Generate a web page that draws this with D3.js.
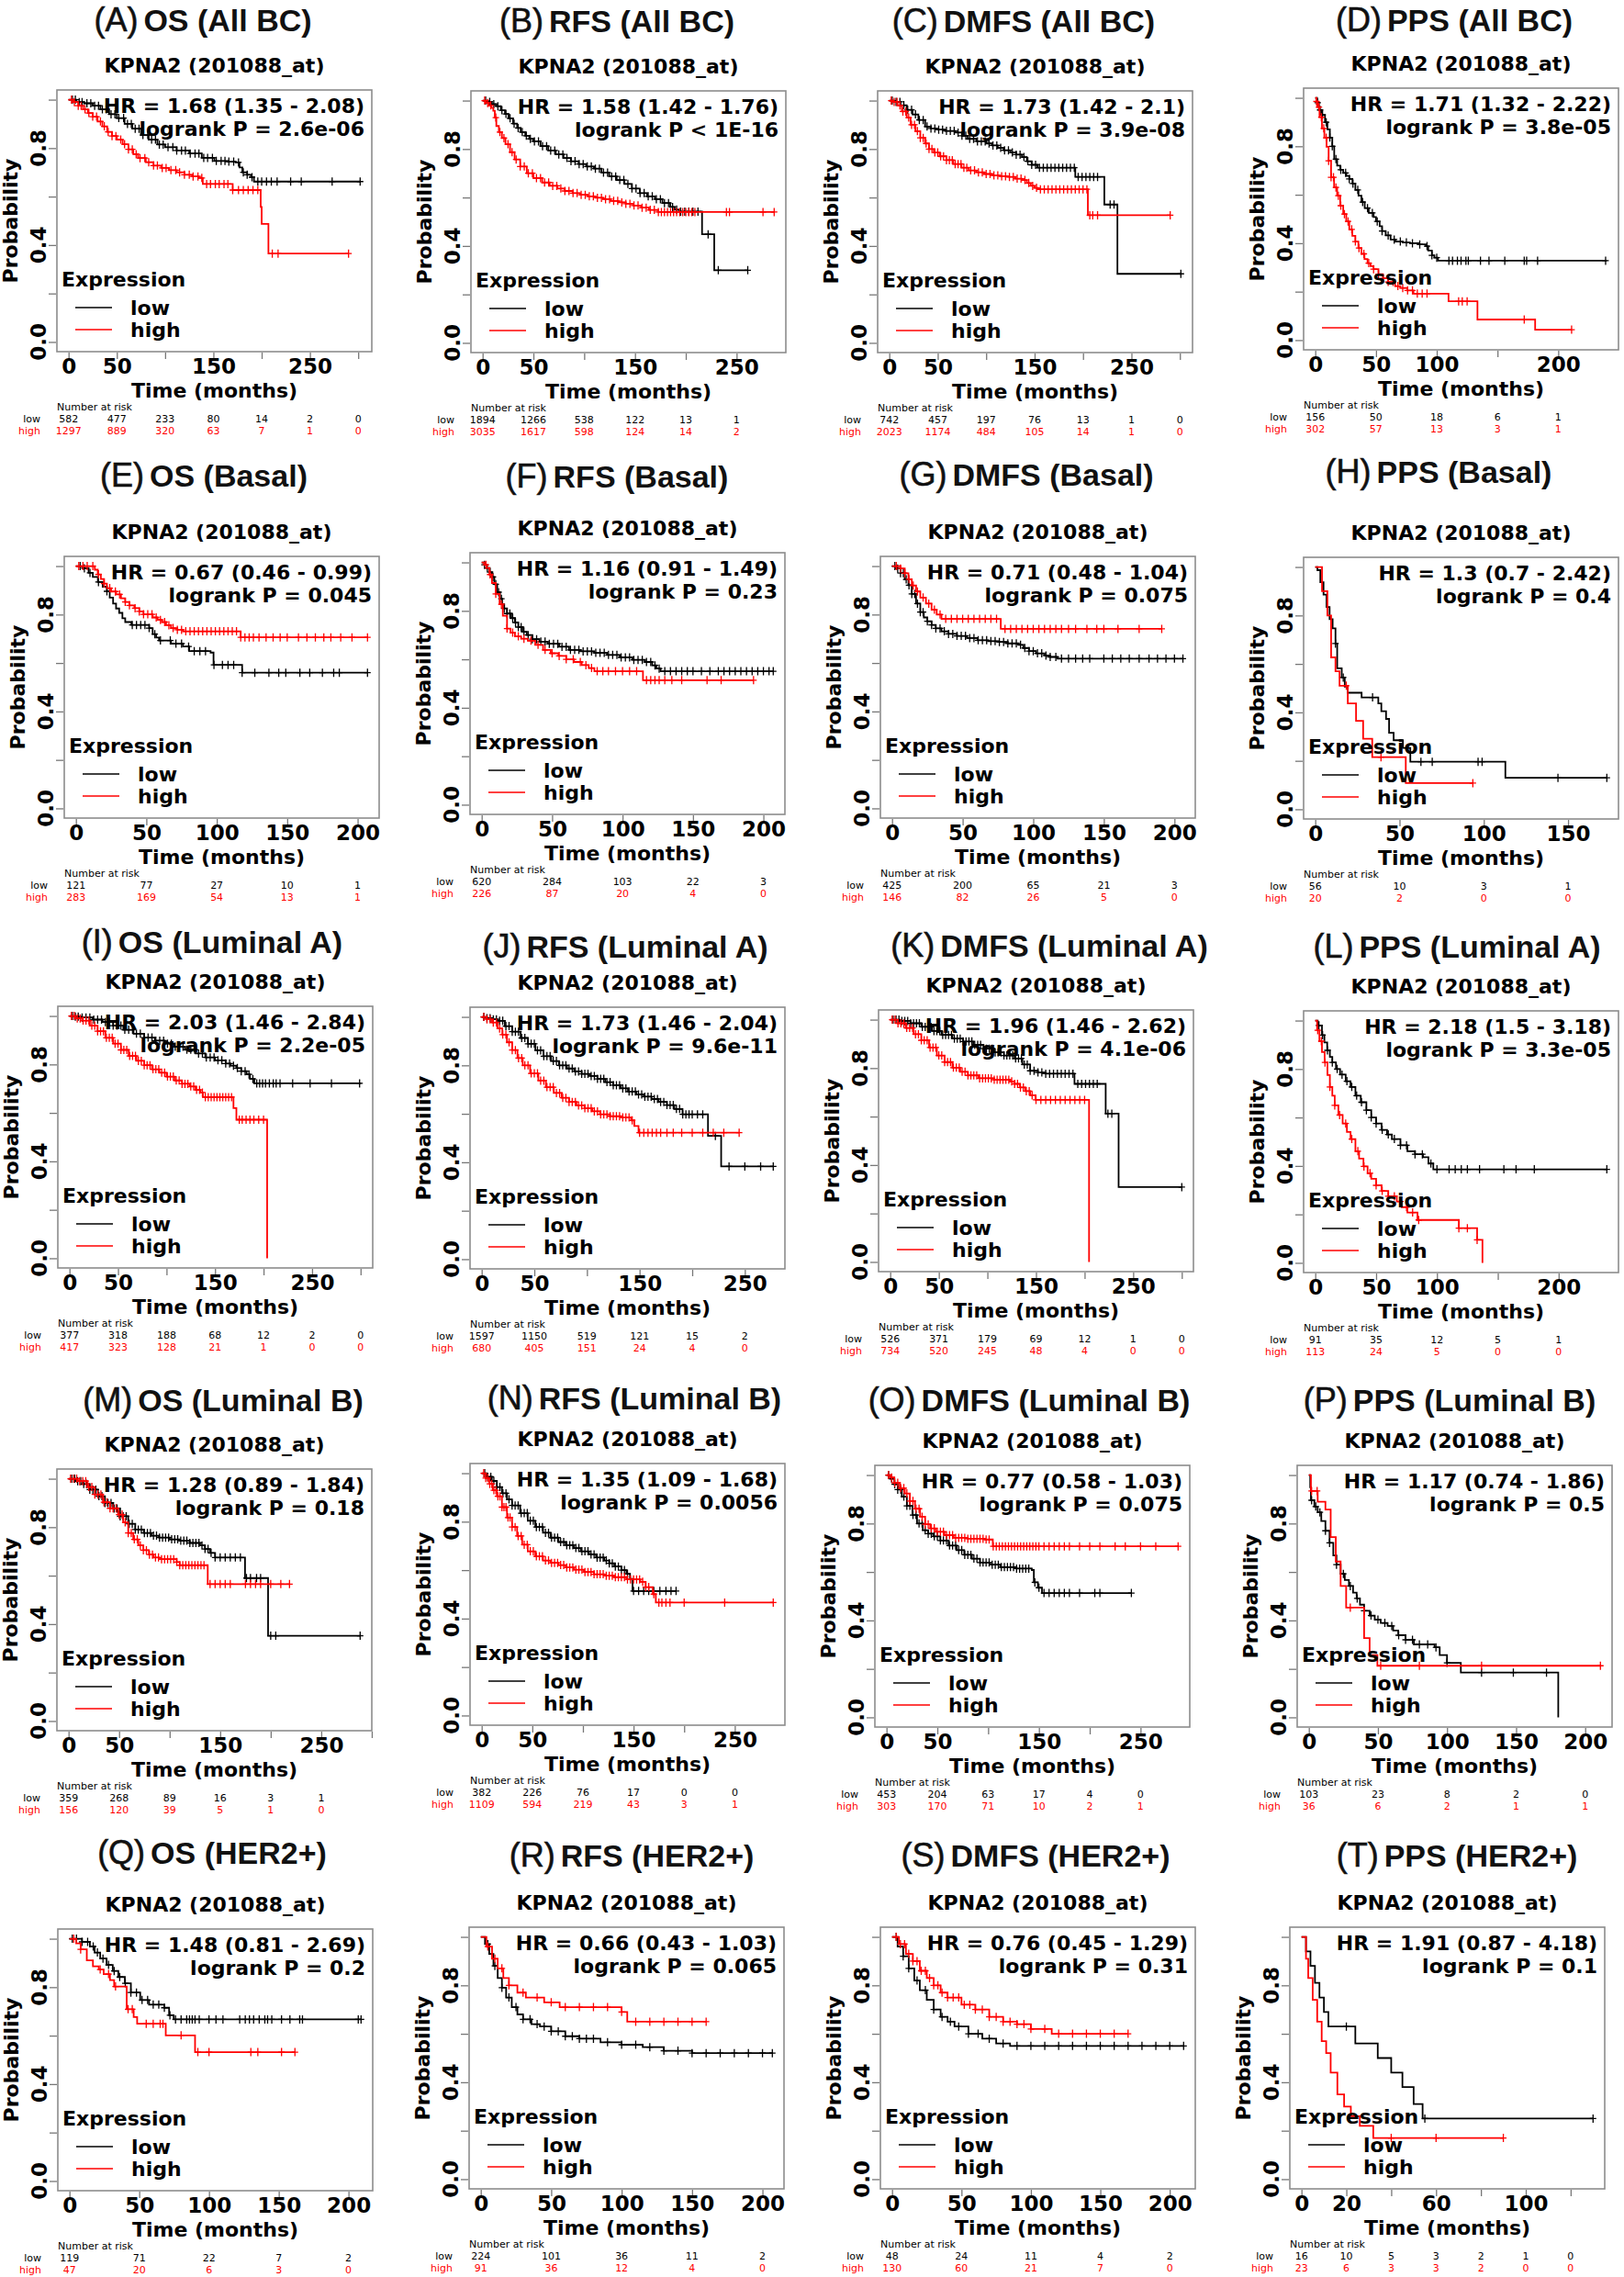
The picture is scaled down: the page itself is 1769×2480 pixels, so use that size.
<!DOCTYPE html>
<html>
<head>
<meta charset="utf-8">
<script src="https://cdnjs.cloudflare.com/ajax/libs/d3/7.8.5/d3.min.js"></script>
<style>
  body { margin: 0; background: #fff; }
</style>
</head>
<body>
<div id="chart"></div>
<script>
// START OF DATA

const panelIds = ["A","B","C","D","E","F","G","H","I","J","K","L","M","N","O","P","Q","R","S","T"];
const endpoints = ["OS","RFS","DMFS","PPS"];
const subtypes = ["All BC","Basal","Luminal A","Luminal B","HER2+"];
const hrTexts = [
  "HR = 1.68 (1.35 - 2.08)","HR = 1.58 (1.42 - 1.76)","HR = 1.73 (1.42 - 2.1)","HR = 1.71 (1.32 - 2.22)",
  "HR = 0.67 (0.46 - 0.99)","HR = 1.16 (0.91 - 1.49)","HR = 0.71 (0.48 - 1.04)","HR = 1.3 (0.7 - 2.42)",
  "HR = 2.03 (1.46 - 2.84)","HR = 1.73 (1.46 - 2.04)","HR = 1.96 (1.46 - 2.62)","HR = 2.18 (1.5 - 3.18)",
  "HR = 1.28 (0.89 - 1.84)","HR = 1.35 (1.09 - 1.68)","HR = 0.77 (0.58 - 1.03)","HR = 1.17 (0.74 - 1.86)",
  "HR = 1.48 (0.81 - 2.69)","HR = 0.66 (0.43 - 1.03)","HR = 0.76 (0.45 - 1.29)","HR = 1.91 (0.87 - 4.18)"
];
const pTexts = [
  "logrank P = 2.6e-06","logrank P < 1E-16","logrank P = 3.9e-08","logrank P = 3.8e-05",
  "logrank P = 0.045","logrank P = 0.23","logrank P = 0.075","logrank P = 0.4",
  "logrank P = 2.2e-05","logrank P = 9.6e-11","logrank P = 4.1e-06","logrank P = 3.3e-05",
  "logrank P = 0.18","logrank P = 0.0056","logrank P = 0.075","logrank P = 0.5",
  "logrank P = 0.2","logrank P = 0.065","logrank P = 0.31","logrank P = 0.1"
];

// x tick values and which of them R printed a label for
const ticks50 = [0,50,100,150,200,250,300];
const ticks20 = [0,20,40,60,80,100,120,140];
const labels300 = [0,50,150,250];
const labels200 = [0,50,100,150,200];
const labels240 = [0,50,100,200];
const labels130 = [0,20,60,100];
const yTicks = [0,0.2,0.4,0.6,0.8,1];
const yLabels = [0,0.4,0.8];

// Number at risk
const riskA = [[582,477,233,80,14,2,0],[1297,889,320,63,7,1,0]];
const riskB = [[1894,1266,538,122,13,1],[3035,1617,598,124,14,2]];
const riskC = [[742,457,197,76,13,1,0],[2023,1174,484,105,14,1,0]];
const riskD = [[156,50,18,6,1],[302,57,13,3,1]];
const riskE = [[121,77,27,10,1],[283,169,54,13,1]];
const riskF = [[620,284,103,22,3],[226,87,20,4,0]];
const riskG = [[425,200,65,21,3],[146,82,26,5,0]];
const riskH = [[56,10,3,1],[20,2,0,0]];
const riskI = [[377,318,188,68,12,2,0],[417,323,128,21,1,0,0]];
const riskJ = [[1597,1150,519,121,15,2],[680,405,151,24,4,0]];
const riskK = [[526,371,179,69,12,1,0],[734,520,245,48,4,0,0]];
const riskL = [[91,35,12,5,1],[113,24,5,0,0]];
const riskM = [[359,268,89,16,3,1],[156,120,39,5,1,0]];
const riskN = [[382,226,76,17,0,0],[1109,594,219,43,3,1]];
const riskO = [[453,204,63,17,4,0],[303,170,71,10,2,1]];
const riskP = [[103,23,8,2,0],[36,6,2,1,1]];
const riskQ = [[119,71,22,7,2],[47,20,6,3,0]];
const riskR = [[224,101,36,11,2],[91,36,12,4,0]];
const riskS = [[48,24,11,4,2],[130,60,21,7,0]];
const riskT = [[16,10,5,3,2,1,0],[23,6,3,3,2,0,0]];

const A_low = [[0,1],[8,0.99],[16,0.985],[25,0.975],[33,0.96],[42,0.94],[50,0.924],[58,0.9],[66,0.88],[75,0.854],[83,0.835],[92,0.815],[100,0.804],[112,0.79],[125,0.778],[138,0.76],[151,0.747],[165,0.744],[173,0.741],[177,0.72],[180,0.70],[185,0.69],[189,0.68],[192,0.662],[302,0.662]];
const A_high = [[0,1],[5,0.99],[10,0.975],[15,0.96],[20,0.945],[25,0.93],[30,0.91],[35,0.89],[40,0.867],[45,0.85],[50,0.835],[56,0.816],[62,0.795],[67,0.775],[72,0.759],[80,0.742],[88,0.728],[96,0.718],[104,0.709],[112,0.70],[120,0.69],[128,0.683],[135,0.677],[139,0.652],[167,0.652],[170,0.627],[199,0.557],[200,0.487],[207,0.365],[290,0.365]];
const A_lowC = [4,7,11,14,19,23,27,31,35,39,44,48,52,57,61,65,69,73,77,82,86,90,94,98,103,108,112,117,121,126,131,135,140,144,149,153,158,162,166,171,176,181,185,190,196,200,205,210,216,230,241,273,302];
const A_highC = [3,6,10,13,17,21,25,29,33,37,41,45,49,54,58,62,66,70,74,79,83,88,92,97,101,106,111,115,120,125,129,134,138,143,147,152,156,161,165,170,176,181,186,191,196,211,217,290];

const B_low = [[0,1],[5,0.995],[9,0.985],[13.5,0.977],[18,0.96],[22,0.945],[25.5,0.927],[30,0.905],[34,0.887],[37.5,0.87],[42,0.855],[46,0.842],[50,0.832],[57,0.812],[64.6,0.794],[72,0.778],[79.6,0.763],[87,0.75],[94.6,0.738],[102,0.728],[109.6,0.719],[117,0.703],[124.6,0.687],[132,0.672],[139.6,0.656],[147,0.637],[154.7,0.618],[162,0.605],[169.7,0.593],[177,0.577],[184.7,0.561],[189,0.55],[193.7,0.542],[216,0.448],[228,0.30],[261,0.30]];
const B_high = [[0,1],[3,0.99],[6,0.98],[8.5,0.97],[10.5,0.958],[12,0.93],[13.5,0.895],[16,0.87],[19,0.845],[22.5,0.82],[27,0.787],[31.5,0.757],[37,0.728],[43.5,0.70],[50,0.68],[58.6,0.662],[66,0.648],[73.6,0.637],[81,0.627],[88.6,0.618],[96,0.611],[103.6,0.605],[111,0.599],[118.6,0.593],[126,0.586],[133.6,0.58],[141,0.574],[148.6,0.567],[156,0.558],[163.7,0.549],[172.7,0.54],[287,0.54]];
const B_lowC = [3,7,11,15,19,23,27,31,35,39,43,47,51,55,59,63,67,71,75,79,83,87,91,95,99,103,107,111,115,119,123,127,131,135,139,143,147,151,155,159,163,167,171,175,179,183,187,191,195,199,203,207,212,222,232,261];
const B_highC = [2,5,8,13,17,21,25,29,33,37,41,45,49,53,57,61,65,69,73,77,81,85,89,93,97,101,105,109,113,117,121,125,129,133,137,141,145,149,153,157,161,165,169,173,176,179,182,185,188,191,194,197,200,203,206,209,240,243,276,287];

const C_low = [[0,1],[5,0.995],[11.6,0.981],[18,0.962],[24,0.943],[30,0.92],[37,0.893],[43,0.885],[49,0.88],[58,0.875],[68,0.868],[75,0.855],[81,0.842],[90,0.832],[100,0.823],[106,0.815],[112,0.805],[118,0.795],[125,0.786],[131,0.777],[137,0.767],[142,0.75],[147,0.735],[153,0.723],[192,0.685],[222,0.571],[235.5,0.285],[301,0.285]];
const C_high = [[0,1],[4,0.995],[8.5,0.98],[13,0.955],[18,0.93],[22,0.9],[27,0.874],[32,0.846],[37,0.823],[41,0.8],[46,0.786],[52,0.77],[59,0.754],[66,0.738],[74.5,0.723],[82,0.712],[90,0.704],[98,0.697],[106,0.691],[114,0.688],[122,0.685],[130,0.678],[137,0.672],[142,0.66],[146,0.648],[150,0.64],[153,0.634],[205,0.527],[290,0.527]];
const C_lowC = [3,7,11,15,19,23,27,31,35,39,43,47,51,55,59,63,67,71,75,79,83,87,91,95,99,103,107,111,115,119,123,127,131,135,139,143,147,151,155,159,163,167,171,175,179,183,187,191,195,199,203,207,211,215,228,232,301];
const C_highC = [2,5,8,11,14,17,20,23,26,29,32,35,38,41,44,47,50,53,56,59,62,65,68,71,74,77,80,84,88,92,96,100,104,108,112,116,120,124,128,132,136,140,144,148,152,156,160,164,168,172,176,180,184,188,192,196,200,204,207,210,215,290];

const D_low = [[0,1],[1.5,0.98],[3,0.95],[5,0.93],[8,0.899],[10,0.87],[12,0.836],[14,0.8],[15.6,0.747],[18,0.72],[20.6,0.703],[23,0.69],[25.6,0.678],[28,0.665],[30.6,0.646],[33,0.62],[35.6,0.596],[38,0.57],[40.7,0.545],[44,0.525],[48,0.508],[50,0.49],[53,0.47],[55,0.45],[58,0.432],[62,0.415],[66,0.407],[72,0.403],[78,0.40],[85,0.395],[91,0.388],[93,0.37],[96,0.35],[98,0.34],[101,0.328],[240,0.328]];
const D_high = [[0,1],[1,0.985],[1.8,0.962],[3.5,0.92],[5.5,0.874],[7.5,0.835],[9.3,0.798],[11,0.74],[13,0.672],[15.5,0.63],[18,0.596],[20.5,0.555],[23,0.52],[25.5,0.49],[28,0.457],[30.5,0.43],[33,0.407],[35.5,0.38],[38,0.356],[40.5,0.335],[43,0.318],[45.5,0.305],[48,0.293],[52,0.272],[55.7,0.255],[60,0.24],[65.7,0.223],[70,0.215],[75.8,0.205],[80.8,0.192],[109.7,0.16],[133.5,0.085],[181,0.043],[211,0.043]];
const D_lowC = [2,4,6,9,12,14,17,21,25,28,31,35,39,43,47,51,55,60,65,70,75,80,86,92,96,100,110,113,117,120,124,126,136,143,156,172,174,183,239];
const D_highC = [1,3,5,7,9,11,13,15,17,19,21,24,27,30,33,36,40,44,48,52,56,60,64,68,72,76,80,84,88,92,118,121,125,172,211];

const E_low = [[0,1],[4.8,0.991],[9,0.972],[12,0.955],[15.6,0.934],[19,0.915],[22,0.896],[24,0.87],[26.4,0.845],[28.5,0.825],[30.7,0.807],[33,0.785],[35,0.769],[39.4,0.757],[52,0.744],[54.5,0.719],[57,0.705],[59,0.693],[67.5,0.68],[76,0.668],[80.4,0.649],[95.6,0.643],[97.7,0.592],[118,0.56],[207,0.56]];
const E_high = [[0,1],[11.2,1],[13.4,0.985],[15.5,0.966],[17.7,0.947],[20,0.928],[22,0.909],[25,0.895],[28.5,0.883],[32,0.867],[35,0.852],[38,0.838],[41.5,0.826],[45,0.813],[48,0.801],[54.5,0.788],[58,0.778],[61,0.769],[64,0.756],[67.5,0.744],[72,0.737],[76,0.731],[117,0.706],[207,0.706]];
const E_lowC = [3,6,10,16,22,40,43,46,49,52,56,60,67,71,75,80,84,88,92,98,104,108,112,118,127,137,144,149,159,166,175,183,187,207];
const E_highC = [2,5,8,12,16,20,24,28,31,35,38,42,45,48,51,54,57,60,63,66,69,72,75,78,81,84,87,90,93,96,99,102,105,108,111,114,117,120,123,126,130,135,140,145,150,158,164,170,176,181,188,196,207];

const F_low = [[0,1],[2,0.99],[3.6,0.977],[5.5,0.96],[7.3,0.94],[9,0.91],[11,0.877],[13,0.85],[14.5,0.827],[16,0.81],[18,0.789],[21,0.77],[23.6,0.752],[26,0.733],[29,0.714],[32,0.7],[36,0.683],[41,0.673],[47,0.664],[55,0.652],[62,0.639],[70,0.633],[80,0.627],[89,0.618],[98,0.608],[107,0.598],[116,0.589],[121,0.575],[124,0.562],[127,0.551],[207,0.551]];
const F_high = [[0,1],[2,0.99],[3.6,0.977],[5.5,0.95],[7.3,0.915],[10,0.87],[12.7,0.827],[15,0.78],[18,0.727],[20.5,0.71],[23.6,0.695],[28,0.685],[32.7,0.677],[38,0.66],[43.6,0.639],[49,0.625],[54.5,0.614],[60,0.6],[65.5,0.589],[71,0.576],[76,0.564],[80,0.551],[114.5,0.514],[193,0.514]];
const F_lowC = [2,4,6,8,10,12,14,16,18,20,22,24,26,28,30,33,36,39,42,45,48,51,54,57,60,63,66,69,72,75,78,81,84,87,90,93,96,99,102,105,108,111,114,117,120,123,126,130,134,138,142,146,150,156,162,168,172,176,180,184,188,192,196,200,204,207];
const F_highC = [3,6,10,14,18,22,26,30,35,40,45,50,55,60,65,70,74,78,82,86,90,95,100,105,110,117,120,123,126,130,135,142,160,170,193];

const G_low = [[0,1],[3,0.99],[6,0.971],[9,0.945],[11.6,0.921],[14,0.885],[17,0.845],[20,0.81],[22.5,0.788],[25,0.772],[28,0.757],[31,0.743],[35,0.731],[40,0.72],[46,0.712],[53,0.703],[60.6,0.694],[68,0.69],[75,0.687],[82,0.681],[89.6,0.675],[93,0.662],[97,0.649],[102,0.64],[108,0.631],[112,0.625],[117,0.618],[206.5,0.618]];
const G_high = [[0,1],[6,0.99],[9,0.97],[11.6,0.946],[14,0.92],[17,0.895],[20,0.87],[24,0.845],[28,0.82],[31.6,0.80],[35,0.782],[77,0.741],[191,0.741]];
const G_lowC = [2,4,6,8,10,12,14,16,18,20,22,25,28,31,34,37,40,43,46,49,52,55,58,61,64,67,70,73,76,79,82,85,88,91,94,97,100,103,106,109,112,116,120,125,130,135,140,150,156,162,168,175,182,188,194,200,206];
const G_highC = [3,6,9,12,15,18,22,26,30,34,38,42,46,50,54,58,62,66,70,74,80,84,88,92,96,100,104,108,112,116,120,125,130,138,145,150,160,175,191];

const H_low = [[0,1],[1.3,0.987],[3,0.937],[4.9,0.886],[6.7,0.835],[8.5,0.785],[10.3,0.747],[12,0.684],[13,0.582],[15.7,0.544],[17.5,0.506],[19.3,0.481],[27.5,0.462],[37.4,0.437],[39.2,0.405],[42,0.373],[43.8,0.316],[46.5,0.285],[52,0.253],[56.4,0.196],[112.8,0.13],[173,0.13]];
const H_high = [[0,1],[4,0.9],[7.2,0.8],[9.4,0.627],[12,0.57],[14.4,0.51],[19.3,0.437],[24.2,0.365],[28.4,0.291],[33.8,0.215],[53.7,0.108],[93.5,0.108]];
const H_lowC = [12,16.6,34,62.7,69.4,96.6,99,144,173];
const H_highC = [18.4,39,93.5];

const I_low = [[0,1],[6,0.997],[13,0.994],[24,0.985],[34,0.975],[45,0.96],[55.5,0.943],[66,0.927],[77,0.911],[88,0.898],[98,0.886],[108,0.873],[119,0.861],[130,0.845],[140,0.829],[150,0.817],[161,0.804],[166,0.795],[172,0.785],[177,0.772],[182.5,0.759],[186,0.74],[190.5,0.722],[300.5,0.722]];
const I_high = [[0,1],[6,0.99],[13,0.981],[21,0.96],[29,0.937],[37,0.91],[45,0.886],[53,0.86],[61,0.835],[69,0.815],[77,0.797],[85,0.78],[92.6,0.766],[100,0.75],[108.5,0.734],[116,0.72],[124,0.709],[130,0.695],[135,0.684],[137.5,0.665],[169,0.62],[172,0.572],[203.7,0.572],[203.7,0]];
const I_lowC = [3,6,9,13,17,21,25,29,33,37,41,45,49,53,57,61,65,69,73,77,81,85,89,93,97,101,105,109,113,117,121,125,129,133,137,141,145,149,153,157,161,165,169,173,177,181,185,189,193,196,199,202,206,210,213,217,230,248,270,299];
const I_highC = [2,5,8,11,14,17,20,23,26,29,32,35,38,41,44,47,50,53,56,59,62,65,68,71,74,77,80,83,86,89,92,95,98,101,104,107,110,113,116,119,122,125,128,131,134,137,140,143,146,149,152,155,158,161,164,167,175,178,182,186,190,195,200];

const J_low = [[0,1],[5,0.995],[10,0.99],[14.7,0.984],[22,0.962],[29,0.939],[37,0.913],[44,0.889],[51,0.862],[58.7,0.838],[66,0.818],[73.4,0.80],[81,0.787],[88,0.775],[95,0.765],[102.7,0.756],[110,0.744],[117.4,0.731],[125,0.718],[132,0.705],[139,0.692],[146.8,0.68],[154,0.671],[161.4,0.661],[168,0.649],[176,0.636],[183,0.62],[190.8,0.598],[215,0.509],[227.5,0.383],[277,0.383]];
const J_high = [[0,1],[5,0.99],[9.8,0.977],[15,0.952],[19.6,0.927],[24,0.895],[29,0.863],[34,0.83],[39,0.80],[46,0.767],[53.8,0.737],[61,0.71],[68.5,0.686],[76,0.666],[83,0.649],[90,0.635],[97.8,0.623],[105,0.61],[112.5,0.598],[122,0.59],[132,0.585],[142,0.573],[145,0.55],[149,0.522],[244.6,0.522]];
const J_lowC = [2,5,8,11,14,17,20,23,26,29,32,35,38,41,44,47,50,53,56,59,62,65,68,71,74,77,80,83,86,89,92,95,98,101,104,107,110,113,116,119,122,125,128,131,134,137,140,143,146,149,152,155,158,161,164,167,170,173,176,179,182,185,188,191,194,197,200,205,210,222,235,250,265,277];
const J_highC = [2,5,8,11,14,17,20,23,26,29,32,35,38,41,44,47,50,53,56,59,62,65,68,71,74,77,80,83,86,89,92,95,98,101,104,107,110,113,116,119,122,125,128,131,134,137,140,143,150,154,158,162,166,170,176,182,190,200,210,220,230,244.6];

const K_low = [[0,1],[10,0.995],[21,0.985],[32,0.97],[43,0.953],[53,0.937],[64,0.922],[75,0.91],[85.5,0.896],[96,0.88],[107,0.865],[117,0.852],[128,0.84],[136,0.815],[144,0.789],[152,0.782],[160,0.777],[189.6,0.735],[221.7,0.612],[235,0.309],[300,0.309]];
const K_high = [[0,1],[8,0.985],[16,0.966],[24,0.94],[32,0.915],[40,0.885],[48,0.852],[56,0.825],[64,0.802],[72,0.785],[80,0.77],[91,0.758],[107,0.752],[123,0.745],[128,0.735],[133.5,0.72],[139,0.705],[144,0.688],[149.6,0.669],[204.6,0.669],[204.6,0]];
const K_lowC = [3,6,9,12,15,18,21,24,27,30,33,36,39,42,45,48,51,54,57,60,63,66,69,72,75,78,81,84,87,90,93,96,99,102,105,108,111,114,117,120,123,126,129,132,135,138,141,144,148,152,156,160,164,168,172,176,180,184,188,193,197,201,205,209,213,224,228,300];
const K_highC = [2,5,8,11,14,17,20,23,26,29,32,35,38,41,44,47,50,53,56,59,62,65,68,71,74,77,80,83,86,89,92,95,98,101,104,107,110,113,116,119,122,125,128,131,134,137,140,143,146,150,155,160,165,170,175,180,185,190,195,200];

const L_low = [[0,1],[2,0.98],[5.5,0.94],[7.5,0.91],[9.8,0.877],[12,0.85],[14,0.827],[17,0.8],[20.4,0.777],[25,0.75],[29,0.726],[33,0.69],[37.4,0.663],[42,0.63],[46,0.60],[50,0.575],[54.5,0.549],[59,0.53],[63,0.511],[70,0.485],[75.7,0.461],[82,0.448],[88.5,0.436],[93,0.41],[97,0.386],[239.6,0.386]];
const L_high = [[0,1],[1.5,0.96],[3.4,0.915],[5.5,0.87],[7.7,0.827],[10,0.775],[12,0.726],[14,0.69],[16,0.65],[19,0.61],[22.5,0.575],[26,0.54],[29,0.511],[33,0.461],[36,0.43],[39.6,0.398],[43,0.37],[46,0.347],[50,0.32],[54.5,0.297],[60,0.275],[67,0.253],[71,0.23],[75.7,0.208],[84,0.177],[118,0.143],[133,0.095],[137.4,0.095],[137.4,0]];
const L_lowC = [3,6,10,14,18,22,26,30,34,38,42,46,50,55,60,65,70,75,82,88,95,100,110,115,120,125,135,155,165,180,239.6];
const L_highC = [2,5,8,12,16,20,25,30,35,40,45,50,55,60,65,70,75,80,85,118,125,133];

const M_low = [[0,1],[7,0.99],[13.7,0.978],[21,0.955],[29,0.928],[36,0.9],[44,0.877],[51,0.845],[59,0.814],[66,0.79],[74.4,0.776],[82,0.765],[89.6,0.757],[100,0.75],[110,0.744],[120,0.735],[130,0.725],[135,0.71],[140,0.694],[145,0.675],[174.6,0.59],[197.4,0.352],[288.5,0.352]];
const M_high = [[0,1],[9,0.99],[18.7,0.966],[26,0.935],[34,0.903],[41,0.878],[49,0.852],[54,0.82],[59,0.776],[64,0.75],[69,0.725],[74,0.705],[79.5,0.687],[84,0.675],[89.6,0.668],[107,0.656],[110,0.643],[137.7,0.565],[218.6,0.565]];
const M_lowC = [3,6,9,12,15,18,21,24,27,30,33,36,39,42,45,48,51,54,57,60,63,66,69,72,75,78,81,84,87,90,93,96,99,102,105,108,111,114,117,120,123,126,129,132,135,138,141,145,150,155,160,165,170,176,180,186,190,200,205,288.5];
const M_highC = [2,5,8,11,14,17,20,23,26,29,32,35,38,41,44,47,50,53,56,59,62,65,68,71,74,77,80,83,86,89,92,95,98,101,104,107,110,113,116,119,122,125,128,131,134,140,145,150,155,160,175,180,185,190,200,210,218.6];

const N_low = [[0,1],[5,0.985],[10,0.968],[15,0.943],[20,0.917],[25,0.892],[30,0.867],[38,0.835],[45.5,0.804],[53,0.778],[60.6,0.754],[68,0.734],[75.8,0.716],[83,0.703],[91,0.691],[98,0.678],[106,0.665],[113,0.652],[121,0.64],[126,0.628],[131,0.615],[138,0.6],[143,0.585],[146.5,0.564],[149,0.514],[192,0.514]];
const N_high = [[0,1],[4,0.98],[7.6,0.956],[11,0.93],[15,0.905],[20,0.86],[25,0.817],[30,0.778],[35,0.741],[40,0.705],[45.5,0.678],[53,0.657],[60.6,0.64],[68,0.63],[75.8,0.621],[83,0.611],[91,0.602],[101,0.592],[111,0.583],[121,0.577],[131,0.571],[143,0.562],[156.6,0.552],[162,0.53],[169,0.501],[172,0.466],[288,0.466]];
const N_lowC = [3,6,9,12,15,18,21,24,27,30,33,36,39,42,45,48,51,54,57,60,63,66,69,72,75,78,81,84,87,90,93,96,99,102,105,108,111,114,117,120,123,126,129,132,135,138,141,144,150,155,160,165,170,176,182,187,192];
const N_highC = [2,4,6,8,10,12,14,16,18,20,22,24,26,28,30,33,36,39,42,45,48,51,54,57,60,63,66,69,72,75,78,81,84,87,90,93,96,99,102,105,108,111,114,117,120,123,126,129,132,135,138,141,144,147,150,153,156,159,162,165,170,175,178,182,186,200,240,288];

const O_low = [[0,1],[4,0.985],[7.7,0.962],[11,0.94],[15,0.911],[20,0.873],[25.5,0.835],[30,0.8],[35.7,0.772],[41,0.758],[46,0.747],[53,0.73],[61,0.709],[69,0.69],[76.5,0.671],[84,0.655],[92,0.639],[102,0.63],[112,0.62],[128,0.614],[143,0.608],[145,0.557],[149,0.535],[153,0.513],[241,0.513]];
const O_high = [[0,1],[4,0.99],[7.7,0.968],[13,0.946],[18,0.924],[23,0.893],[28,0.861],[33,0.828],[38,0.797],[43,0.78],[48.5,0.766],[57,0.752],[66,0.741],[80,0.737],[97,0.734],[104.6,0.706],[287,0.706]];
const O_lowC = [2,5,8,11,14,17,20,23,26,29,32,35,38,41,44,47,50,53,56,59,62,65,68,71,74,77,80,83,86,89,92,95,98,101,104,107,110,113,116,119,122,125,128,131,134,137,140,146,150,155,160,165,170,175,180,190,205,210,241];
const O_highC = [2,5,8,11,14,17,20,23,26,29,32,35,38,41,44,47,50,53,56,59,62,65,68,71,74,77,80,83,86,89,92,95,98,101,105,108,111,114,117,120,123,126,129,132,135,138,141,144,147,150,155,160,165,170,175,180,190,200,210,225,235,250,265,287];

const P_low = [[0,1],[1,0.95],[1.5,0.896],[4,0.87],[6.4,0.846],[9,0.81],[12,0.77],[15,0.72],[17.7,0.668],[20,0.63],[23,0.592],[26,0.567],[29,0.542],[32,0.515],[34.6,0.491],[37,0.465],[40,0.44],[44,0.42],[47.7,0.403],[52,0.39],[57,0.377],[61,0.358],[64.7,0.339],[70,0.32],[76,0.301],[91,0.289],[94.7,0.257],[100,0.225],[110,0.185],[180.5,0.185],[180.5,0]];
const P_high = [[0,1],[1.5,0.934],[6.4,0.89],[12,0.858],[15.8,0.744],[19.5,0.643],[23,0.542],[27,0.453],[40,0.327],[44,0.257],[49.6,0.213],[211,0.213]];
const P_lowC = [2,5,8,12,15,20,25,30,35,40,45,50,55,60,65,70,75,80,86,92,100,125,148,172];
const P_highC = [2,6,30,52,80,125,211];

const Q_low = [[0,1],[9,0.987],[14.6,0.968],[18,0.943],[22,0.918],[26.6,0.892],[31,0.867],[35,0.842],[39.7,0.816],[44,0.778],[50.7,0.747],[57,0.728],[68,0.715],[71.4,0.684],[74.7,0.667],[209,0.667]];
const Q_high = [[0,1],[4.8,0.981],[8,0.956],[12.4,0.911],[16.8,0.886],[21,0.873],[24.5,0.854],[29,0.829],[32,0.803],[41,0.709],[46,0.677],[48.5,0.649],[69,0.601],[90,0.532],[161.6,0.532]];
const Q_lowC = [2,5,9,13,17,20,24,28,32,36,40,44,48,52,56,60,64,68,72,76,80,84,86,88,90,93,100,105,110,122,126,129,132,136,140,142,145,152,158,165,167,207,209];
const Q_highC = [3,8,22,28,33,42,45,55,60,65,67,80,92,100,130,135,152,161.6];

const R_low = [[0,1],[3,0.97],[6,0.93],[9,0.88],[12,0.83],[15,0.79],[18,0.75],[22,0.71],[26,0.68],[30,0.66],[36,0.64],[42,0.63],[50,0.61],[60,0.59],[70,0.58],[85,0.565],[100,0.555],[115,0.545],[130,0.53],[150,0.52],[207,0.52]];
const R_high = [[0,1],[4,0.96],[8,0.91],[12,0.87],[16,0.83],[20,0.8],[26,0.77],[32,0.75],[45,0.73],[56,0.71],[100,0.69],[104,0.65],[160,0.65]];
const R_lowC = [5,10,15,20,25,30,35,40,45,50,55,60,65,70,75,80,90,100,110,120,130,140,150,160,170,180,190,200,207];
const R_highC = [5,10,15,20,30,40,50,60,70,80,90,100,110,120,130,140,150,160];

const S_low = [[0,1],[4,0.96],[8,0.92],[12,0.87],[16,0.82],[20,0.78],[25,0.74],[30,0.70],[35,0.67],[40,0.65],[45,0.63],[55,0.6],[65,0.58],[75,0.56],[85,0.55],[210,0.55]];
const S_high = [[0,1],[5,0.97],[10,0.93],[15,0.9],[20,0.86],[25,0.83],[30,0.8],[35,0.77],[40,0.75],[50,0.72],[60,0.7],[70,0.67],[80,0.65],[90,0.64],[100,0.62],[115,0.6],[170,0.6]];
const S_lowC = [3,8,12,18,24,30,36,42,48,55,62,70,80,90,100,110,120,130,140,150,160,170,180,190,200,210];
const S_highC = [3,6,9,12,15,18,21,24,27,30,33,36,40,44,48,52,56,60,65,70,75,80,85,90,95,100,110,120,130,140,150,160,170];

const T_low = [[0,1],[2,0.94],[4,0.88],[6,0.81],[8,0.75],[10,0.69],[12,0.63],[22,0.63],[24,0.56],[30,0.56],[34,0.5],[40,0.44],[45,0.38],[50,0.31],[54,0.25],[130,0.25]];
const T_high = [[0,1],[2,0.91],[3,0.83],[5,0.74],[7,0.65],[9,0.57],[11,0.52],[13,0.44],[16,0.35],[19,0.30],[22,0.26],[26,0.22],[32,0.17],[90,0.17]];
const T_lowC = [20,55,130];
const T_highC = [40,60,90];

// END OF DATA

// Panel placement in the figure (box left/top, title centre/baseline)
const layout = {
  A: [62, 98, 221, 34],   B: [513, 99, 672, 35],   C: [956, 99, 1115, 35],  D: [1420, 96, 1584, 34],
  E: [70, 606, 222, 530], F: [512, 602, 672, 531], G: [959, 606, 1118, 529], H: [1420, 607, 1567, 526],
  I: [63, 1096, 231, 1038], J: [512, 1097, 681, 1043], K: [957, 1100, 1143, 1042], L: [1420, 1101, 1587, 1043],
  M: [62, 1600, 243, 1537], N: [512, 1594, 691, 1535], O: [953, 1596, 1121, 1537], P: [1413, 1596, 1579, 1537],
  Q: [63, 2101, 231, 2030], R: [511, 2099, 688, 2033], S: [959, 2099, 1128, 2033], T: [1405, 2099, 1587, 2033]
};

const curves = {
  A: [A_low, A_high, A_lowC, A_highC, riskA, ticks50, labels300],
  B: [B_low, B_high, B_lowC, B_highC, riskB, ticks50, labels300],
  C: [C_low, C_high, C_lowC, C_highC, riskC, ticks50, labels300],
  D: [D_low, D_high, D_lowC, D_highC, riskD, ticks50, labels240],
  E: [E_low, E_high, E_lowC, E_highC, riskE, ticks50, labels200],
  F: [F_low, F_high, F_lowC, F_highC, riskF, ticks50, labels200],
  G: [G_low, G_high, G_lowC, G_highC, riskG, ticks50, labels200],
  H: [H_low, H_high, H_lowC, H_highC, riskH, ticks50, labels200],
  I: [I_low, I_high, I_lowC, I_highC, riskI, ticks50, labels300],
  J: [J_low, J_high, J_lowC, J_highC, riskJ, ticks50, labels300],
  K: [K_low, K_high, K_lowC, K_highC, riskK, ticks50, labels300],
  L: [L_low, L_high, L_lowC, L_highC, riskL, ticks50, labels240],
  M: [M_low, M_high, M_lowC, M_highC, riskM, ticks50, labels300],
  N: [N_low, N_high, N_lowC, N_highC, riskN, ticks50, labels300],
  O: [O_low, O_high, O_lowC, O_highC, riskO, ticks50, labels300],
  P: [P_low, P_high, P_lowC, P_highC, riskP, ticks50, labels200],
  Q: [Q_low, Q_high, Q_lowC, Q_highC, riskQ, ticks50, labels200],
  R: [R_low, R_high, R_lowC, R_highC, riskR, ticks50, labels200],
  S: [S_low, S_high, S_lowC, S_highC, riskS, ticks50, labels200],
  T: [T_low, T_high, T_lowC, T_highC, riskT, ticks20, labels130]
};

// Setup
const W = 343, H = 285;
const BOLD = "'DejaVu Sans', Verdana, sans-serif";
const colors = ["#000000", "#ff0000"];

const SVG = d3.select("#chart")
  .append("svg")
  .attr("width", 1769)
  .attr("height", 2480)
  .style("background", "#fff");

// survival value of a step curve at time t
function survAt(pts, t) {
  let s = 1;
  for (const [pt, ps] of pts) {
    if (pt <= t) s = ps;
    else break;
  }
  return s;
}

function drawPanel(id, i) {
  const [bx, by, tx, ty] = layout[id];
  const [low, high, lowC, highC, risk, ticks, labels] = curves[id];
  const xMax = d3.max([low, high], (c) => c[c.length - 1][0]);

  const x = d3.scaleLinear().domain([-0.04 * xMax, 1.04 * xMax]).range([0, W]);
  const y = d3.scaleLinear().domain([-0.04, 1.04]).range([H, 0]);

  // panel title, e.g. "(A) OS (All BC)"
  const title = SVG.append("text")
    .attr("x", tx).attr("y", ty)
    .attr("text-anchor", "middle")
    .attr("font-family", "'Liberation Sans', Arial, sans-serif")
    .attr("fill", "#111");
  title.append("tspan").attr("font-size", 36).attr("stroke", "#111").attr("stroke-width", 0.6)
    .text(`(${id})`);
  title.append("tspan").attr("dx", 6).attr("font-size", 34).attr("font-weight", "bold")
    .text(`${endpoints[i % 4]} (${subtypes[Math.floor(i / 4)]})`);

  const g = SVG.append("g").attr("transform", `translate(${bx},${by})`)
    .attr("font-family", BOLD);

  g.append("text").attr("x", W / 2).attr("y", -19).attr("text-anchor", "middle")
    .attr("font-size", 22).attr("font-weight", "bold").text("KPNA2 (201088_at)");

  // y axis ticks
  g.append("g").attr("transform", "translate(-1,0)")
    .call(d3.axisLeft(y).tickValues(yTicks).tickSize(8).tickFormat(""))
    .call((a) => a.select(".domain").remove())
    .call((a) => a.selectAll("line").attr("stroke", "#777").attr("stroke-width", 1.3));

  g.selectAll("text.ylab").data(yLabels).join("text")
    .attr("class", "ylab")
    .attr("transform", (d) => `translate(-12,${y(d)}) rotate(-90)`)
    .attr("text-anchor", "middle").attr("font-size", 23).attr("font-weight", "bold")
    .text((d) => d.toFixed(1));

  g.append("text").attr("transform", `translate(-43,${H / 2}) rotate(-90)`)
    .attr("text-anchor", "middle").attr("font-size", 22).attr("font-weight", "bold")
    .text("Probability");

  // x axis
  const xt = ticks.filter((t) => t <= 1.04 * xMax);
  const xAxis = g.append("g").attr("transform", `translate(0,${H + 1})`)
    .call(d3.axisBottom(x).tickValues(xt).tickSize(7).tickPadding(0)
      .tickFormat((d) => (labels.includes(d) ? d : "")));
  xAxis.select(".domain").remove();
  xAxis.selectAll("line").attr("stroke", "#777").attr("stroke-width", 1.3);
  xAxis.selectAll("text").attr("font-family", BOLD).attr("font-size", 23)
    .attr("font-weight", "bold").attr("fill", "#000");

  g.append("text").attr("x", W / 2).attr("y", H + 50).attr("text-anchor", "middle")
    .attr("font-size", 22).attr("font-weight", "bold").text("Time (months)");

  // curves
  const line = d3.line().x((d) => x(d[0])).y((d) => y(d[1])).curve(d3.curveStepAfter);
  [[low, lowC], [high, highC]].forEach(([pts, cens], k) => {
    g.append("path").attr("d", line(pts)).attr("fill", "none")
      .attr("stroke", colors[k]).attr("stroke-width", 1.8);
    g.append("path")
      .attr("d", cens.map((c) => {
        const cx = x(c), cy = y(survAt(pts, c));
        return `M${cx - 3.5},${cy}H${cx + 3.5}M${cx},${cy - 4.5}V${cy + 4.5}`;
      }).join(""))
      .attr("fill", "none").attr("stroke", colors[k]).attr("stroke-width", 1.3);
  });

  // frame
  g.append("rect").attr("width", W).attr("height", H).attr("fill", "none")
    .attr("stroke", "#8c8c8c").attr("stroke-width", 1.6);

  // HR + logrank
  g.append("text").attr("x", W - 8).attr("y", 25).attr("text-anchor", "end")
    .attr("font-size", 22).attr("font-weight", "bold").text(hrTexts[i]);
  g.append("text").attr("x", W - 8).attr("y", 50).attr("text-anchor", "end")
    .attr("font-size", 22).attr("font-weight", "bold").text(pTexts[i]);

  // legend
  g.append("text").attr("x", 5).attr("y", 214).attr("font-size", 22)
    .attr("font-weight", "bold").text("Expression");
  ["low", "high"].forEach((lab, k) => {
    g.append("line").attr("x1", 20).attr("x2", 60)
      .attr("y1", 237 + 24 * k).attr("y2", 237 + 24 * k)
      .attr("stroke", colors[k]).attr("stroke-width", 1.6);
    g.append("text").attr("x", 80).attr("y", 245 + 24 * k).attr("font-size", 22)
      .attr("font-weight", "bold").text(lab);
  });

  // number at risk
  const rt = g.append("g").attr("font-size", 11);
  rt.append("text").attr("x", 0).attr("y", H + 64).text("Number at risk");
  ["low", "high"].forEach((lab, k) => {
    rt.append("text").attr("x", -18).attr("y", H + 77 + 13 * k)
      .attr("text-anchor", "end").attr("fill", colors[k]).text(lab);
    rt.selectAll(null).data(risk[k]).join("text")
      .attr("x", (d, j) => x(ticks[j])).attr("y", H + 77 + 13 * k)
      .attr("text-anchor", "middle").attr("fill", colors[k]).text((d) => d);
  });
}

panelIds.forEach(drawPanel);
</script>
</body>
</html>
